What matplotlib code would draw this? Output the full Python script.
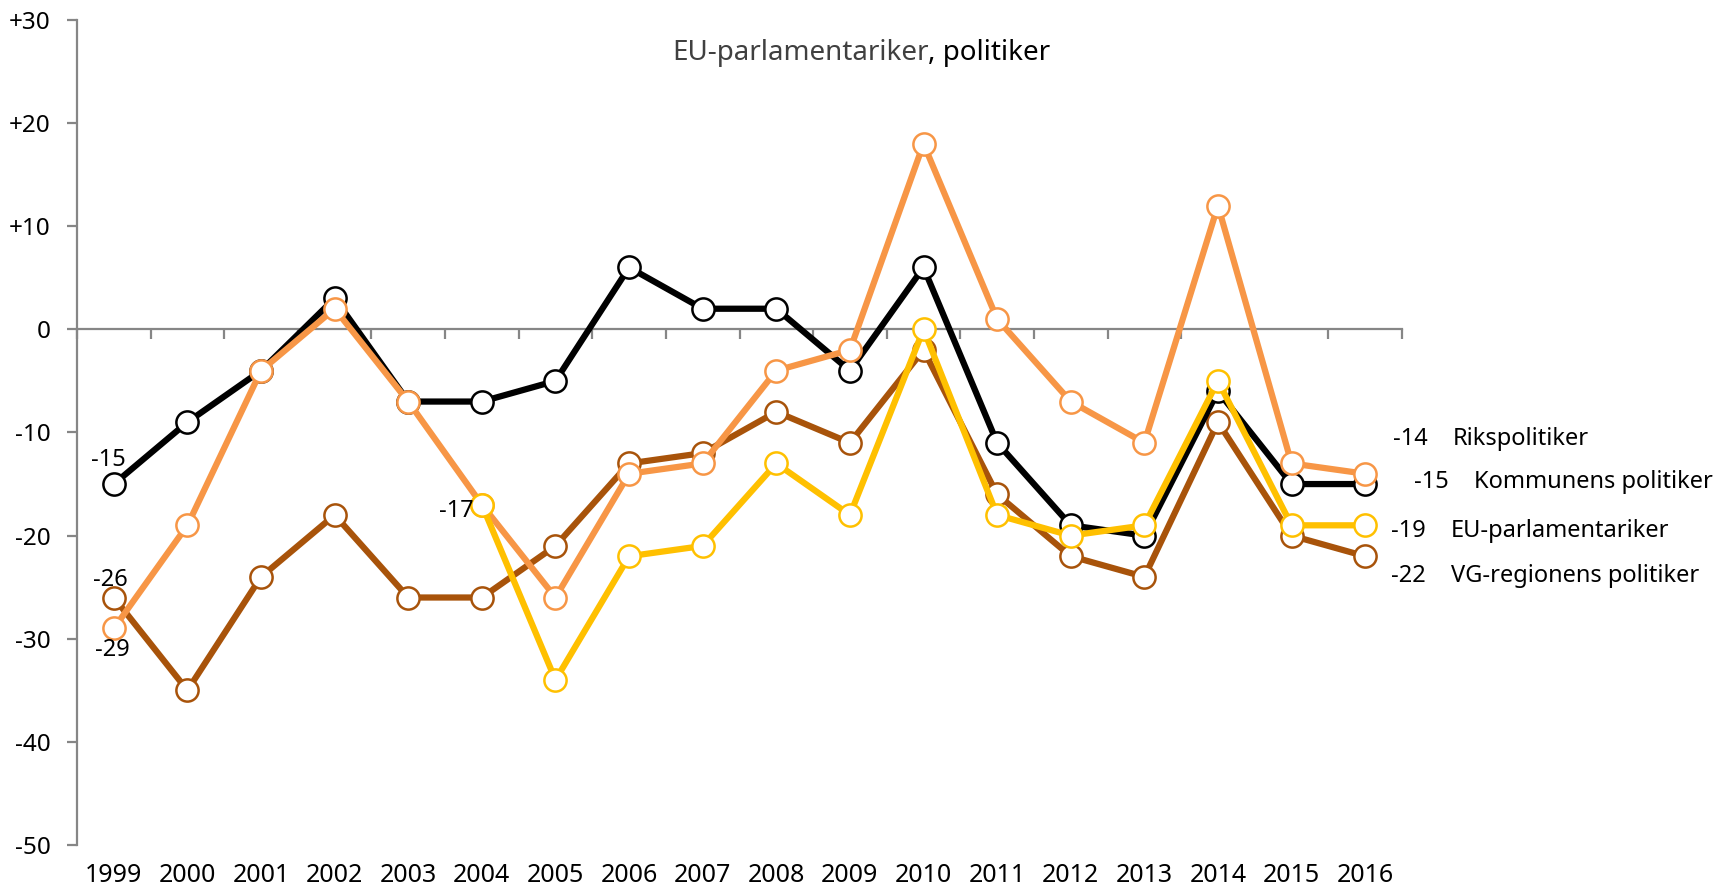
import numpy as np
import matplotlib
matplotlib.use('Agg')
import matplotlib.pyplot as plt

years = list(range(1999, 2017))
nan = np.nan
# index values per series
kommun = [-15, -9, -4, 3, -7, -7, -5, 6, 2, 2, -4, 6, -11, -19, -20, -6, -15, -15]
riks = [-29, -19, -4, 2, -7, -17, -26, -14, -13, -4, -2, 18, 1, -7, -11, 12, -13, -14]
eu = [nan, nan, nan, nan, nan, -17, -34, -22, -21, -13, -18, 0, -18, -20, -19, -5, -19, -19]
vg = [-26, -35, -24, -18, -26, -26, -21, -13, -12, -8, -11, -2, -16, -22, -24, -9, -20, -22]

names = ['Rikspolitiker', 'Kommunens politiker', 'EU-parlamentariker', 'VG-regionens politiker']
ytick_vals = [30, 20, 10, 0, -10, -20, -30, -40, -50]
ytick_labels = ['+30', '+20', '+10', '0', '-10', '-20', '-30', '-40', '-50']

c_black = '#000000'
c_riks = '#F79646'
c_eu = '#FFC000'
c_vg = '#A8530A'
c_axis = '#868686'

plt.rcParams['font.family'] = ['Noto Sans', 'DejaVu Sans']

fig = plt.figure(figsize=(17.27, 8.91), dpi=100)
ax = fig.add_axes([0.0446, 0.0516, 0.8118 - 0.0446, 0.9776 - 0.0516])

x = np.arange(len(years))
series = [(vg, c_vg), (kommun, c_black), (riks, c_riks), (eu, c_eu)]
for i, (vals, col) in enumerate(series):
    ax.plot(x, vals, color=col, lw=4.5, marker='o', ms=16, mfc='white',
            mec=col, mew=1.8, zorder=3 + i, clip_on=False)

ax.set_xlim(-0.5, len(years) - 0.5)
ax.set_ylim(-50, 30)

# y axis
ax.set_yticks(ytick_vals)
ax.set_yticklabels(ytick_labels, fontsize=17.5)
ax.tick_params(axis='y', direction='out', length=7, width=1.6, color=c_axis, pad=12)
ax.spines['left'].set_color(c_axis)
ax.spines['left'].set_linewidth(1.6)
for s in ['top', 'right', 'bottom']:
    ax.spines[s].set_visible(False)

# year labels at the bottom
ax.set_xticks(x)
ax.set_xticklabels([str(y) for y in years], fontsize=18)
ax.tick_params(axis='x', length=0, pad=13)

# zero line with boundary ticks
sec = ax.secondary_xaxis(0, transform=ax.transData)
sec.set_xticks(np.arange(-0.5, len(years), 1.0))
sec.set_xticklabels([])
sec.tick_params(direction='out', length=7, width=1.6, color=c_axis)
sec.spines['bottom'].set_color(c_axis)
sec.spines['bottom'].set_linewidth(1.6)

# title in two colours
t1 = fig.text(0.389, 0.9405, 'EU-parlamentariker', fontsize=20, color='#404040',
              ha='left', va='center')
ax.annotate(', politiker', xy=(1, 0), xycoords=t1, va='bottom', ha='left',
            fontsize=20, color='black')

# data labels at the start
lab_kw = dict(textcoords='offset pixels', fontsize=17, zorder=10)
ax.annotate(f'{kommun[0]}', (0, kommun[0]), xytext=(-5, 24), ha='center', va='center', **lab_kw)
ax.annotate(f'{vg[0]}', (0, vg[0]), xytext=(-3, 18), ha='center', va='center', **lab_kw)
ax.annotate(f'{riks[0]}', (0, riks[0]), xytext=(-1, -22), ha='center', va='center', **lab_kw)
ax.annotate(f'{eu[5]:.0f}', (5, eu[5]), xytext=(-8, -6), ha='right', va='center', **lab_kw)

# labels at the end
last = len(years) - 1
end_vals = [riks[-1], kommun[-1], eu[-1], vg[-1]]
end_dy = [35, 2, -6, -20]
end_dx = [28, 49, 26, 26]
for v, nm, dy, dx in zip(end_vals, names, end_dy, end_dx):
    ax.annotate(f'{v:.0f}', (last, v), xytext=(dx, dy), ha='left', va='center',
                annotation_clip=False, **lab_kw)
    ax.annotate(nm, (last, v), xytext=(dx + 60, dy), ha='left', va='center',
                annotation_clip=False, **lab_kw)

fig.savefig('out.png', dpi=100)
